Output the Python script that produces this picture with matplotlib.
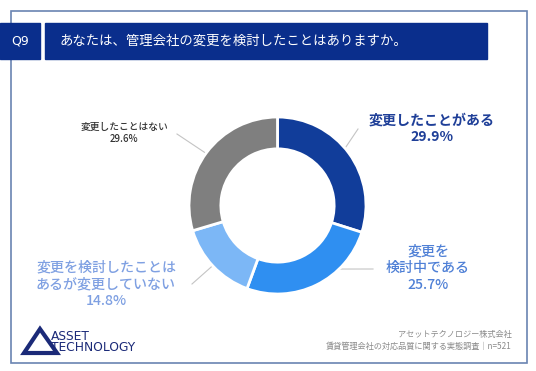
import numpy as np
import matplotlib
matplotlib.use("Agg")
import matplotlib.pyplot as plt
from matplotlib.patches import Rectangle, Polygon

plt.rcParams['font.family'] = ['Noto Sans CJK JP', 'DejaVu Sans']

# ---- data ----
categories = ["変更したことがある", "変更を検討中である",
              "変更を検討したことはあるが変更していない", "変更したことはない"]
values = [29.9, 25.7, 14.8, 29.6]
label_texts = ["変更したことがある\n29.9%", "変更を\n検討中である\n25.7%",
               "変更を検討したことは\nあるが変更していない\n14.8%", "変更したことはない\n29.6%"]
colors = ["#113d9a", "#2f8ff1", "#7cb7f6", "#7f7f7f"]
label_colors = ["#1f3f98", "#4f80d6", "#7fa0e2", "#333333"]
title = "あなたは、管理会社の変更を検討したことはありますか。"
qnum = "Q9"
footer1 = "アセットテクノロジー株式会社"
footer2 = "賃貸管理会社の対応品質に関する実態調査｜n=521"

W, H = 536, 371
fig = plt.figure(figsize=(W / 100, H / 100), dpi=100)
fig.patch.set_facecolor("white")

# overlay axes in pixel coords
ov = fig.add_axes([0, 0, 1, 1])
ov.set_xlim(0, W)
ov.set_ylim(H, 0)
ov.axis("off")

navy = "#0a2e8c"
# outer border
ov.add_patch(Rectangle((10.5, 10.5), 516, 352, fill=False, ec="#6a84b2", lw=1.2))
# Q box and title bar
ov.add_patch(Rectangle((0, 23), 40, 36, color=navy, zorder=3))
ov.add_patch(Rectangle((45, 23), 442, 36, color=navy, zorder=3))
ov.text(20, 41.5, qnum, color="white", fontsize=9, ha="center", va="center",
        family="DejaVu Sans", zorder=4)
ov.text(60, 41, title, color="white", fontsize=9.6, ha="left", va="center", zorder=4)

# donut
cx, cy, R = 277.5, 205.5, 88.5
pax = fig.add_axes([(cx - R) / W, (H - cy - R) / H, 2 * R / W, 2 * R / H])
wedges, _ = pax.pie(values, colors=colors, startangle=90, counterclock=False, radius=1,
                    wedgeprops=dict(width=0.36, edgecolor="white", linewidth=2))
pax.set_xlim(-1, 1)
pax.set_ylim(-1, 1)
pax.set_aspect("equal")
pax.axis("off")

# labels & leader lines
label_pos = [(432, 129), (428, 268), (106, 284), (124, 133)]
line_end = [(358, 129), (373, 269), (192, 284), (177, 134)]
fsz = [10.1, 10.1, 10.1, 7.0]
weights = ["bold", "medium", "medium", "medium"]
for w, txt, (lx, ly), (ex, ey), c, fs, fw in zip(wedges, label_texts, label_pos,
                                                line_end, label_colors, fsz, weights):
    ang = np.deg2rad((w.theta1 + w.theta2) / 2)
    sx = cx + 0.8 * R * np.cos(ang)
    sy = cy - 0.8 * R * np.sin(ang)
    ov.plot([sx, ex], [sy, ey], color="#c4c4c4", lw=0.8, zorder=5)
    ov.text(lx, ly, txt, color=c, fontsize=fs, ha="center", va="center",
            linespacing=1.25, fontweight=fw)

# footer logo
ov.add_patch(Polygon([[24, 353], [40, 329], [57, 353]], closed=True, fill=False,
                     ec="#1b2a78", lw=3, joinstyle="miter"))
ov.text(51, 336, "ASSET", color="#1b2a78", fontsize=8.8, family="DejaVu Sans",
        ha="left", va="center")
ov.text(51, 347.5, "TECHNOLOGY", color="#1b2a78", fontsize=8.8, family="DejaVu Sans",
        ha="left", va="center")

ov.text(512, 335, footer1, color="#8a8a8a", fontsize=5.9, ha="right", va="center")
ov.text(512, 346.5, footer2, color="#8a8a8a", fontsize=5.9, ha="right", va="center")

fig.savefig("out.png", dpi=100, facecolor="white")
